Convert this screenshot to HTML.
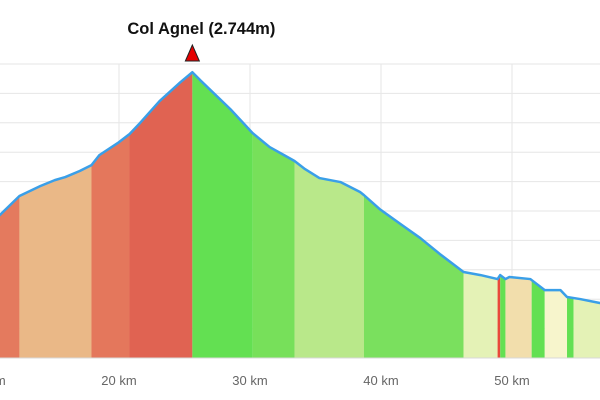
<!DOCTYPE html>
<html><head><meta charset="utf-8"><style>
html,body{margin:0;padding:0;background:#fff;}
svg{display:block;font-family:"Liberation Sans",sans-serif;}
</style></head><body>
<svg id="chart" width="600" height="400" viewBox="0 0 600 400"></svg>
<script>
const distKm=[10.9,12.4,14.0,15.1,15.9,17.0,17.9,18.5,19.9,20.8,21.6,23.1,24.7,25.6,26.2,28.5,30.2,31.5,32.6,33.4,34.2,35.3,36.9,38.4,38.7,39.9,41.5,43.0,44.5,46.3,47.6,48.9,49.1,49.5,49.8,51.4,52.5,53.7,54.2,55.2,56.7];
const elevM=[1772,1902,1970,2010,2031,2072,2112,2180,2262,2323,2398,2548,2677,2744,2690,2493,2330,2235,2180,2140,2085,2024,1997,1929,1908,1813,1711,1616,1507,1385,1364,1337,1364,1337,1351,1337,1262,1262,1215,1201,1174];
const segStart=[9,12.4,17.9,20.8,25.6,30.2,33.4,38.7,46.3,48.9,49.1,49.5,51.5,52.5,54.2,54.7];
const segEnd=[12.4,17.9,20.8,25.6,30.2,33.4,38.7,46.3,48.9,49.1,49.5,51.5,52.5,54.2,54.7,58];
const segColor=["#e47a5e","#eab887","#e4775c","#e06352","#63e052","#77e05a","#b9e88a","#7ae05e","#e4f2b6","#e84a3a","#63e052","#f2deac","#63e052","#f7f5cc","#63e052","#e4f2b6"];
const xTicks=[10,20,30,40,50,60];
const yTicks=[800,1000,1200,1400,1600,1800,2000,2200,2400,2600,2800];
const peakKm=25.6, peakElev=2744, peakLabel="Col Agnel (2.744m)";

const NS="http://www.w3.org/2000/svg";
const svg=document.getElementById('chart');
const X=km=>119+(km-20)*13.1;
const Y=e=>358-(e-800)*29.4/200;
function mk(tag,attrs,parent){const el=document.createElementNS(NS,tag);for(const k in attrs)el.setAttribute(k,attrs[k]);(parent||svg).appendChild(el);return el;}

const defs=mk('defs',{});
const cp=mk('clipPath',{id:'areaClip'},defs);
let pts=distKm.map((d,i)=>X(d)+','+Y(elevM[i]));
pts.unshift((X(distKm[0])-20)+','+Y(elevM[0]));
pts.push((X(distKm[distKm.length-1])+20)+','+Y(elevM[elevM.length-1]));
pts.push('620,358','-20,358');
mk('polygon',{points:pts.join(' ')},cp);

yTicks.forEach(t=>{
  const l=mk('line',{x1:0,x2:600,y1:Y(t),y2:Y(t),stroke:'#e6e6e6','stroke-width':1});
  
  
});
xTicks.forEach(t=>{
  const l=mk('line',{x1:X(t),x2:X(t),y1:Y(2800),y2:358,stroke:'#e6e6e6','stroke-width':1});
  
  
});

const g=mk('g',{'clip-path':'url(#areaClip)'});


segStart.forEach((s,i)=>{
  const r=mk('rect',{x:X(s),y:0,width:X(segEnd[i])-X(s),height:358,fill:segColor[i]},g);
  
  
});

const lp=[(X(distKm[0])-20)+','+Y(elevM[0])].concat(distKm.map((d,i)=>X(d)+','+Y(elevM[i])));
lp.push((X(distKm[distKm.length-1])+20)+','+Y(elevM[elevM.length-1]));
const line=mk('polyline',{points:lp.join(' '),fill:'none',stroke:'#3a9fe8','stroke-width':2.5,'stroke-linejoin':'round'});



const ax=mk('line',{x1:0,x2:600,y1:358,y2:358,stroke:'#d8d8d8','stroke-width':1});



xTicks.forEach(t=>{
  const tx=mk('text',{x:X(t),y:385,'text-anchor':'middle','font-size':13,fill:'#666'});
  tx.textContent=t+' km';
  
  
});

const px=X(peakKm);
const tri=mk('polygon',{points:(px)+',45 '+(px-7)+',61 '+(px+7)+',61',fill:'#e50000',stroke:'#222','stroke-width':1});


const pl=mk('text',{x:px+9,y:34,'text-anchor':'middle','font-size':16.5,'font-weight':'bold',fill:'#111'});
pl.textContent=peakLabel;


</script>
</body></html>
